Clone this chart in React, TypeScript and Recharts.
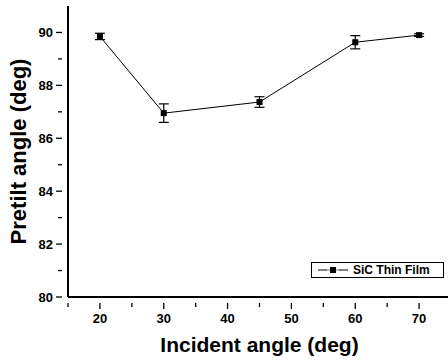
import React from "react";
import {
  ComposedChart,
  Line,
  XAxis,
  YAxis,
  ErrorBar,
} from "recharts";

const incidentAngles = [20, 30, 45, 60, 70];
const pretiltAngles = [89.85, 86.95, 87.37, 89.63, 89.9];
const pretiltErrors = [0.12, 0.35, 0.2, 0.25, 0.05];
const xTicks = [15, 20, 25, 30, 35, 40, 45, 50, 55, 60, 65, 70, 75];
const yTicks = [80, 81, 82, 83, 84, 85, 86, 87, 88, 89, 90, 91];
const seriesName = "SiC Thin Film";

const data = incidentAngles.map((x, i) => ({
  x,
  y: pretiltAngles[i],
  err: pretiltErrors[i],
}));

const FONT = "'Liberation Sans', Arial, sans-serif";

const XTick = (props: any) => {
  const { x, y, payload } = props;
  const v = payload.value;
  const major = v % 10 === 0;
  return (
    <g>
      <line x1={x} x2={x} y1={y - 2} y2={y + (major ? 4 : 2)} stroke="#000" strokeWidth={1.3} />
      {major && (
        <text x={x} y={y + 18} textAnchor="middle" fontFamily={FONT} fontWeight="bold" fontSize={13} fill="#000">
          {v}
        </text>
      )}
    </g>
  );
};

const YTick = (props: any) => {
  const { x, y, payload } = props;
  const v = payload.value;
  if (v > 90) return <g />;
  const major = v % 2 === 0;
  return (
    <g>
      <line x1={x + 2} x2={x - (major ? 4 : 2)} y1={y} y2={y} stroke="#000" strokeWidth={1.3} />
      {major && (
        <text x={x - 7} y={y + 4.5} textAnchor="end" fontFamily={FONT} fontWeight="bold" fontSize={13} fill="#000">
          {v}
        </text>
      )}
    </g>
  );
};

const SquareDot = (props: any) => {
  const { cx, cy } = props;
  return <rect x={cx - 3} y={cy - 3} width={6} height={6} fill="#000" />;
};

const LegendBox = () => (
  <div
    style={{
      position: "absolute",
      left: 311,
      top: 262,
      width: 133,
      height: 16,
      border: "1px solid #000",
      background: "#fff",
      display: "flex",
      alignItems: "center",
      padding: "0 4px 0 6px",
      fontFamily: FONT,
      fontWeight: "bold",
      fontSize: 12,
      boxSizing: "border-box",
      whiteSpace: "nowrap",
    }}
  >
    <svg width={30} height={8} style={{ marginRight: 5 }}>
      <line x1={0} x2={30} y1={4} y2={4} stroke="#000" strokeWidth={1} />
      <rect x={12} y={1} width={6} height={6} fill="#000" />
      <line x1={9} x2={12} y1={4} y2={4} stroke="#fff" strokeWidth={1} />
      <line x1={18} x2={21} y1={4} y2={4} stroke="#fff" strokeWidth={1} />
    </svg>
    <span>{seriesName}</span>
  </div>
);

export default function App() {
  return (
    <div style={{ position: "absolute", left: 0, top: 0, width: 448, height: 360, overflow: "hidden", background: "#fff" }}>
      <ComposedChart
        width={460}
        height={360}
        data={data}
        margin={{ top: 6, right: 9, bottom: 33, left: 8 }}
      >
        <XAxis
          xAxisId="top"
          orientation="top"
          type="number"
          dataKey="x"
          domain={[15, 75]}
          tick={false}
          tickLine={false}
          height={0}
          axisLine={{ stroke: "#000", strokeWidth: 2 }}
        />
        <XAxis
          type="number"
          dataKey="x"
          domain={[15, 75]}
          ticks={xTicks}
          interval={0}
          tick={<XTick />}
          tickLine={false}
          height={30}
          axisLine={{ stroke: "#000", strokeWidth: 2 }}
          label={{
            value: "Incident angle (deg)",
            position: "insideBottom",
            offset: -25,
            style: { fontFamily: FONT, fontWeight: "bold", fontSize: 21, fill: "#000" },
          }}
        />
        <YAxis
          type="number"
          domain={[80, 91]}
          ticks={yTicks}
          interval={0}
          tick={<YTick />}
          tickLine={false}
          width={60}
          axisLine={{ stroke: "#000", strokeWidth: 2 }}
          label={{
            value: "Pretilt angle (deg)",
            angle: -90,
            position: "insideLeft",
            offset: 0,
            dx: 10,
            style: { textAnchor: "middle", fontFamily: FONT, fontWeight: "bold", fontSize: 22, fill: "#000" },
          }}
        />
        <Line
          xAxisId={0}
          type="linear"
          dataKey="y"
          name={seriesName}
          stroke="#000"
          strokeWidth={1}
          dot={<SquareDot />}
          isAnimationActive={false}
        >
          <ErrorBar dataKey="err" width={5} stroke="#000" strokeWidth={1.2} direction="y" />
        </Line>
      </ComposedChart>
      <LegendBox />
    </div>
  );
}
